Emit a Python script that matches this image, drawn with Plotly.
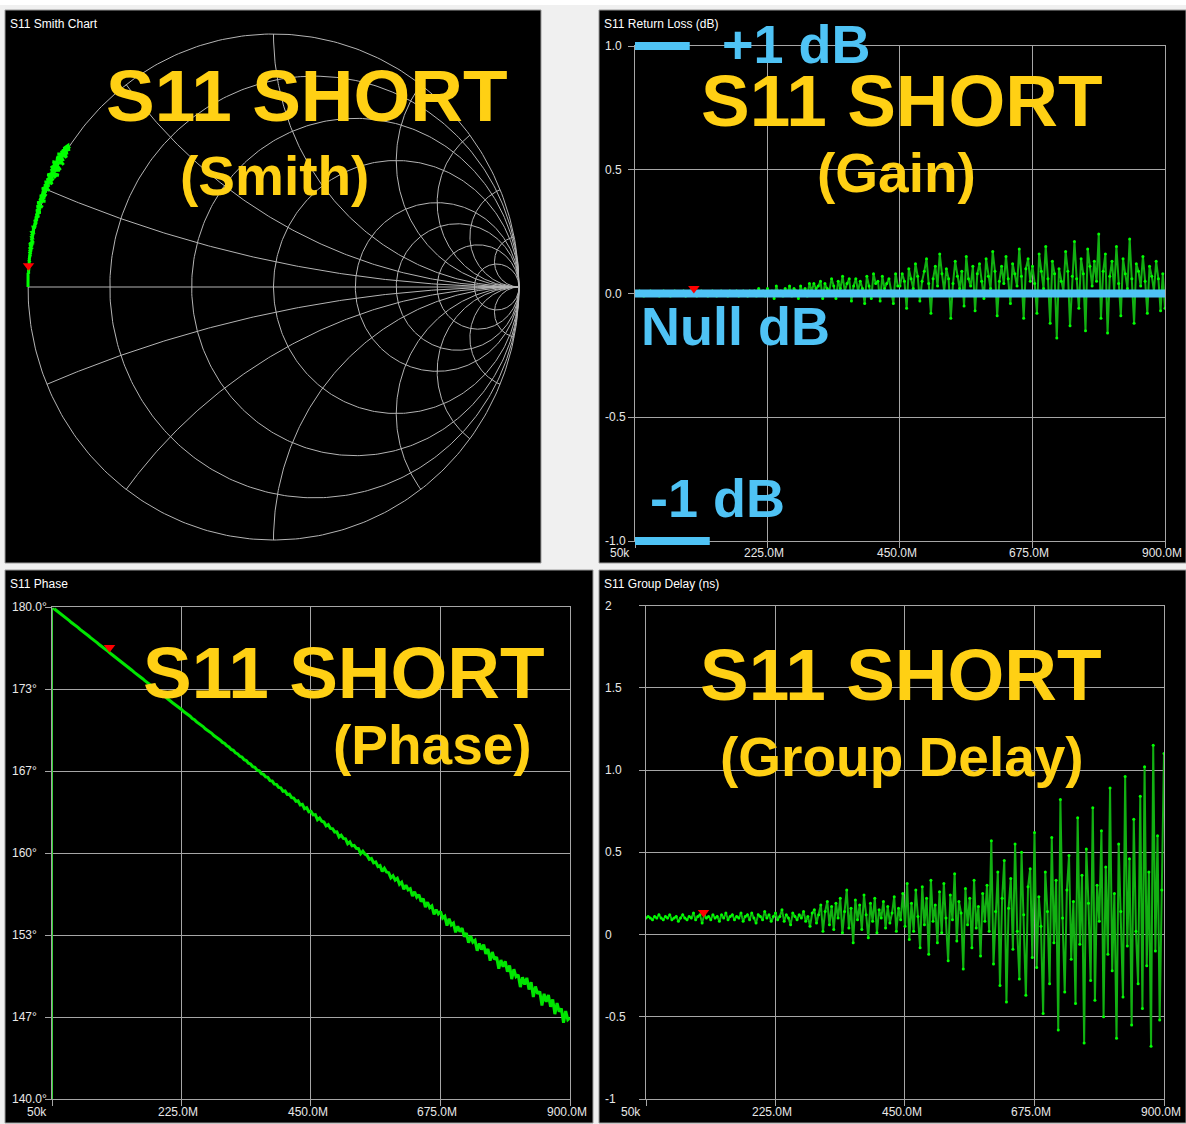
import numpy as np
import plotly.graph_objects as go

# ---------------- data ----------------
FREQ_START_HZ = 50e3
FREQ_STOP_HZ = 900e6
N_POINTS = 241
freq_hz = np.linspace(FREQ_START_HZ, FREQ_STOP_HZ, N_POINTS)

gain_db = [
    0.00, 0.00, 0.01, 0.00, -0.01, 0.00, 0.00, 0.01, 0.00, 0.00,
    0.00, -0.01, 0.00, 0.01, 0.00, 0.00, -0.01, 0.00, 0.01, 0.00,
    0.00, 0.00, 0.01, -0.01, 0.00, 0.01, 0.00, 0.00, -0.01, 0.00,
    0.01, 0.00, 0.00, -0.01, 0.00, 0.01, 0.00, -0.01, 0.00, 0.01,
    0.00, 0.00, -0.01, 0.01, 0.00, 0.00, 0.01, -0.01, 0.00, 0.01,
    0.00, -0.01, 0.01, 0.00, 0.01, -0.01, 0.02, 0.00, 0.01, -0.01,
    0.02, 0.00, 0.01, -0.02, 0.03, 0.00, 0.01, -0.01, 0.02, 0.00,
    0.03, -0.01, 0.02, 0.01, -0.02, 0.03, 0.00, 0.02, -0.01, 0.04,
    0.01, 0.04, 0.02, 0.03, 0.05, -0.02, 0.04, 0.02, 0.01, 0.06,
    0.03, -0.02, 0.05, 0.02, 0.07, 0.01, 0.04, 0.06, -0.03, 0.03,
    0.06, 0.01, 0.05, 0.02, -0.04, 0.07, 0.03, -0.02, 0.08, 0.04,
    0.05, -0.03, 0.07, 0.02, 0.04, 0.06, 0.01, -0.04, 0.08, 0.03,
    0.03, 0.08, 0.05, -0.06, 0.10, 0.06, 0.02, 0.12, 0.07, -0.03,
    0.05, 0.09, 0.14, 0.04, -0.08, 0.06, 0.11, 0.03, 0.16, 0.08,
    0.01, 0.10, 0.06, -0.10, 0.04, 0.13, 0.07, 0.02, 0.09, -0.05,
    0.15, 0.06, 0.03, 0.11, -0.07, 0.08, 0.12, 0.05, -0.02, 0.14,
    0.07, 0.02, 0.17, 0.09, -0.09, 0.05, 0.11, 0.04, 0.15, 0.06,
    -0.04, 0.12, 0.08, 0.03, 0.18, 0.07, -0.10, 0.10, 0.14, 0.05,
    0.11, 0.04, -0.08, 0.16, 0.09, 0.02, 0.19, 0.06, -0.12, 0.13,
    0.08, -0.18, 0.10, 0.05, 0.01, 0.17, 0.09, -0.13, 0.07, 0.21,
    0.06, -0.06, 0.14, 0.08, -0.15, 0.18, 0.11, 0.03, 0.13, 0.05,
    0.24, -0.10, 0.09, 0.16, -0.16, 0.07, 0.13, 0.01, 0.19, 0.04,
    -0.09, 0.14, 0.08, 0.02, 0.22, 0.06, -0.12, 0.12, 0.09, 0.03,
    0.15, 0.05, -0.08, 0.11, 0.07, 0.01, 0.13, 0.06, -0.07, 0.08,
    -0.06,
]

phase_deg = [
    -180.0, 179.86, 179.73, 179.57, 179.45, 179.29, 179.17, 179.02, 178.90, 178.74,
    178.62, 178.46, 178.34, 178.18, 178.06, 177.90, 177.78, 177.64, 177.49, 177.37,
    177.21, 177.09, 176.93, 176.81, 176.66, 176.52, 176.39, 176.24, 176.11, 175.95,
    175.83, 175.67, 175.55, 175.40, 175.27, 175.12, 174.99, 174.86, 174.70, 174.58,
    174.44, 174.28, 174.17, 174.01, 173.89, 173.73, 173.61, 173.45, 173.33, 173.17,
    173.05, 172.89, 172.77, 172.60, 172.49, 172.34, 172.20, 172.08, 171.92, 171.80,
    171.67, 171.50, 171.39, 171.22, 171.12, 170.94, 170.84, 170.66, 170.55, 170.39,
    170.28, 170.10, 169.99, 169.82, 169.73, 169.55, 169.44, 169.27, 169.17, 168.99,
    168.90, 168.71, 168.62, 168.42, 168.35, 168.14, 168.06, 167.86, 167.80, 167.58,
    167.52, 167.30, 167.24, 167.02, 166.97, 166.74, 166.69, 166.45, 166.40, 166.18,
    166.15, 165.88, 165.86, 165.60, 165.58, 165.33, 165.30, 165.02, 165.05, 164.76,
    164.78, 164.50, 164.47, 164.20, 164.25, 163.90, 163.96, 163.60, 163.68, 163.35,
    163.38, 163.10, 163.12, 162.70, 162.85, 162.58, 162.52, 162.20, 162.31, 162.00,
    161.98, 161.70, 161.72, 161.30, 161.45, 161.18, 161.15, 160.75, 160.90, 160.58,
    160.62, 160.38, 160.35, 159.95, 160.15, 159.90, 159.80, 159.48, 159.55, 159.20,
    159.28, 158.90, 158.98, 158.50, 158.75, 158.45, 158.40, 157.98, 158.15, 157.80,
    157.95, 157.45, 157.62, 157.05, 157.38, 157.00, 157.10, 156.50, 156.85, 156.40,
    156.60, 156.05, 156.30, 155.60, 156.00, 155.55, 155.70, 155.00, 155.40, 155.05,
    155.25, 154.70, 154.85, 154.10, 154.65, 154.15, 154.30, 153.55, 154.05, 153.60,
    153.90, 153.20, 153.50, 152.70, 153.25, 152.75, 152.90, 152.05, 152.65, 152.15,
    152.55, 151.80, 152.20, 151.25, 151.95, 151.35, 151.55, 150.60, 151.30, 150.75,
    151.20, 150.35, 150.85, 149.75, 150.55, 149.95, 150.10, 149.10, 149.90, 149.30,
    149.85, 148.90, 149.50, 148.30, 149.15, 148.55, 148.75, 147.60, 148.55, 147.90,
    148.45, 147.50, 148.10, 146.90, 147.80, 147.10, 147.35, 146.20, 147.15, 146.45,
    146.60,
]

group_delay_ns = [
    0.10, 0.11, 0.10, 0.09, 0.11, 0.10, 0.12, 0.10, 0.09, 0.11,
    0.10, 0.12, 0.09, 0.10, 0.11, 0.08, 0.10, 0.12, 0.10, 0.09,
    0.11, 0.10, 0.13, 0.09, 0.11, 0.12, 0.07, 0.12, 0.10, 0.11,
    0.09, 0.12, 0.10, 0.11, 0.08, 0.12, 0.10, 0.13, 0.09, 0.11,
    0.12, 0.09, 0.11, 0.10, 0.13, 0.08, 0.11, 0.12, 0.09, 0.13,
    0.10, 0.07, 0.12, 0.11, 0.09, 0.14, 0.10, 0.12, 0.08, 0.11,
    0.13, 0.09, 0.11, 0.15, 0.08, 0.12, 0.10, 0.06, 0.13, 0.11,
    0.09, 0.12, 0.10, 0.14, 0.08, 0.11, 0.05, 0.13, 0.15, 0.07,
    0.12, 0.18, 0.02, 0.14, 0.20, 0.06, 0.17, 0.03, 0.19, 0.10,
    0.22, 0.01, 0.14, 0.27, 0.04, 0.16, -0.05, 0.21, 0.09, 0.18,
    0.03, 0.24, 0.12, -0.02, 0.19, 0.08, 0.22, 0.01, 0.15, 0.10,
    0.20, 0.04, 0.17, 0.07, 0.13, 0.23, 0.02, 0.16, 0.09, 0.25,
    0.05, 0.31, -0.03, 0.19, 0.02, 0.27, 0.11, -0.08, 0.29, 0.06,
    0.22, -0.12, 0.33, 0.08, 0.18, -0.05, 0.26, 0.01, 0.31, 0.10,
    -0.16, 0.24, 0.09, 0.37, -0.04, 0.20, 0.13, -0.21, 0.28, 0.06,
    0.22, -0.08, 0.33, 0.04, 0.17, -0.13, 0.25, 0.08, 0.30, 0.02,
    0.57, -0.18, 0.14, 0.38, -0.31, 0.22, 0.45, -0.41, 0.16, 0.34,
    -0.09, 0.55, 0.02, -0.27, 0.50, 0.12, -0.37, 0.29, 0.40, -0.14,
    0.62, -0.20, 0.23, 0.05, -0.48, 0.38, 0.14, -0.30, 0.59, -0.05,
    0.33, -0.58, 0.82, 0.10, -0.35, 0.27, 0.48, -0.15, 0.20, -0.42,
    0.71, -0.06, 0.36, -0.66, 0.52, 0.19, -0.28, 0.77, -0.40, 0.30,
    0.08, 0.63, -0.50, 0.41, -0.12, 0.89, -0.22, 0.25, -0.63, 0.55,
    0.14, -0.38, 0.96, -0.07, 0.46, -0.55, 0.70, 0.02, -0.30, 0.84,
    -0.45, 1.02, -0.19, 0.38, -0.68, 1.15, -0.10, 0.60, -0.52, 0.27,
    1.10,
]

marker_freq_hz = [100e6]

freq_tick_vals = [50e3, 225e6, 450e6, 675e6, 900e6]
freq_tick_text = ["50k", "225.0M", "450.0M", "675.0M", "900.0M"]
gain_tick_vals = [1.0, 0.5, 0.0, -0.5, -1.0]
gain_tick_text = ["1.0", "0.5", "0.0", "-0.5", "-1.0"]
phase_tick_vals = [180.0, 173.333, 166.667, 160.0, 153.333, 146.667, 140.0]
phase_tick_text = ["180.0°", "173°", "167°", "160°", "153°", "147°", "140.0°"]
gd_tick_vals = [2.0, 1.5, 1.0, 0.5, 0.0, -0.5, -1.0]
gd_tick_text = ["2", "1.5", "1.0", "0.5", "0", "-0.5", "-1"]

smith_r_values = [0.2, 0.5, 1, 2, 3, 5, 10]
smith_x_values = [0.2, 0.5, 1, 2, 3, 5, 10]

# blue overlay bars on the gain chart: (level dB, stop frequency)
bar_levels_db = [1.0, 0.0, -1.0]
bar_stop_hz = [93e6, 900e6, 127e6]

panel_titles = ["S11 Smith Chart", "S11 Return Loss (dB)", "S11 Phase", "S11 Group Delay (ns)"]

# ---------------- layout helpers ----------------
W, H = 1186, 1124


def fx(px):
    return px / W


def fy(py):
    return 1 - py / H


GRID = "#a6a6a6"
TXT = "#e8e8e8"
YEL = "#FFD014"
BLU = "#4FC3F5"
GREEN_LINE = "#12b012"
GREEN_PT = "#00ff00"
FONT = "Liberation Sans, Arial, sans-serif"

# plot-area pixel boxes (left, right, top, bottom)
GAIN_BOX = (635, 1165, 46, 541)
PHASE_BOX = (52, 570, 607, 1099)
GD_BOX = (646, 1164, 605.5, 1099)
GAIN_RANGE = (-1.0, 1.0)
PHASE_RANGE = (140.0, 180.0)
GD_RANGE = (-1.0, 2.0)

SMITH_CX, SMITH_CY, SMITH_RX, SMITH_RY = 273.5, 287.0, 245.5, 253.0
SMITH_PAD = 1.01

fig = go.Figure()

# ---------------- Smith chart grid ----------------
gx, gy = [], []
t = np.linspace(0, 2 * np.pi, 400)
gx += list(np.cos(t)) + [None]
gy += list(np.sin(t)) + [None]
gx += [-1, 1, None]
gy += [0, 0, None]
for r in smith_r_values:
    c, rad = r / (1 + r), 1 / (1 + r)
    gx += list(c + rad * np.cos(t)) + [None]
    gy += list(rad * np.sin(t)) + [None]
for xv in smith_x_values:
    px_ = (xv ** 2 - 1) / (xv ** 2 + 1)
    py_ = 2 * xv / (xv ** 2 + 1)
    th_end = np.arctan2(py_ - 1 / xv, px_ - 1)
    if th_end > -np.pi / 2:
        th_end -= 2 * np.pi
    th = np.linspace(-np.pi / 2, th_end, 200)
    ax_ = 1 + (1 / xv) * np.cos(th)
    ay_ = 1 / xv + (1 / xv) * np.sin(th)
    gx += list(ax_) + [None] + list(ax_) + [None]
    gy += list(ay_) + [None] + list(-ay_) + [None]
fig.add_trace(go.Scatter(x=gx, y=gy, mode="lines", line=dict(color="#b4b4b4", width=1),
                         hoverinfo="skip", xaxis="x", yaxis="y"))

# Smith trace from magnitude (dB) and phase
mag = 10 ** (np.array(gain_db) / 20.0)
ang = np.deg2rad(np.array(phase_deg))
sx = mag * np.cos(ang)
sy = mag * np.sin(ang)
fig.add_trace(go.Scatter(x=sx, y=sy, mode="lines", line=dict(color=GREEN_PT, width=3),
                         hoverinfo="skip", xaxis="x", yaxis="y"))

# marker values at marker frequency
mf = marker_freq_hz[0]
m_gain = float(np.interp(mf, freq_hz, gain_db))
m_phase = float(np.interp(mf, freq_hz[1:], phase_deg[1:]))
m_gd = float(np.interp(mf, freq_hz, group_delay_ns))
m_mag = 10 ** (m_gain / 20)
m_sx = m_mag * np.cos(np.deg2rad(m_phase))
m_sy = m_mag * np.sin(np.deg2rad(m_phase))

MK = 10  # marker size; triangle tip is MK/2 px below its centre


def units_per_px(box, rng):
    return (rng[1] - rng[0]) / (box[3] - box[2])


smith_upp = (2 * SMITH_PAD) / (2 * SMITH_RY * SMITH_PAD)
fig.add_trace(go.Scatter(x=[m_sx], y=[m_sy + (MK / 2) * smith_upp], mode="markers",
                         marker=dict(symbol="triangle-down", size=MK, color="red"),
                         cliponaxis=False, hoverinfo="skip", xaxis="x", yaxis="y"))

# ---------------- Gain ----------------
fig.add_trace(go.Scatter(x=freq_hz, y=gain_db, mode="lines+markers",
                         line=dict(color=GREEN_LINE, width=2),
                         marker=dict(color=GREEN_PT, size=3),
                         hoverinfo="skip", xaxis="x2", yaxis="y2"))
fig.add_trace(go.Scatter(x=[FREQ_START_HZ, bar_stop_hz[1]], y=[bar_levels_db[1]] * 2, mode="lines",
                         line=dict(color=BLU, width=8), hoverinfo="skip", xaxis="x2", yaxis="y2"))
fig.add_trace(go.Scatter(x=[mf], y=[m_gain + (MK / 2) * units_per_px(GAIN_BOX, GAIN_RANGE)],
                         mode="markers", marker=dict(symbol="triangle-down", size=MK, color="red"),
                         cliponaxis=False, hoverinfo="skip", xaxis="x2", yaxis="y2"))

# ---------------- Phase ----------------
fig.add_trace(go.Scatter(x=freq_hz[:2], y=phase_deg[:2], mode="lines", line_shape="vh",
                         line=dict(color="#38d038", width=2), hoverinfo="skip",
                         xaxis="x3", yaxis="y3"))
fig.add_trace(go.Scatter(x=freq_hz[1:], y=phase_deg[1:], mode="lines",
                         line=dict(color="#00e600", width=3), hoverinfo="skip",
                         xaxis="x3", yaxis="y3"))
fig.add_trace(go.Scatter(x=[mf], y=[m_phase + (MK / 2) * units_per_px(PHASE_BOX, PHASE_RANGE)],
                         mode="markers", marker=dict(symbol="triangle-down", size=MK, color="red"),
                         cliponaxis=False, hoverinfo="skip", xaxis="x3", yaxis="y3"))

# ---------------- Group delay ----------------
fig.add_trace(go.Scatter(x=freq_hz, y=group_delay_ns, mode="lines+markers",
                         line=dict(color=GREEN_LINE, width=2),
                         marker=dict(color=GREEN_PT, size=3),
                         hoverinfo="skip", xaxis="x4", yaxis="y4"))
fig.add_trace(go.Scatter(x=[mf], y=[m_gd + (MK / 2) * units_per_px(GD_BOX, GD_RANGE)],
                         mode="markers", marker=dict(symbol="triangle-down", size=MK, color="red"),
                         cliponaxis=False, hoverinfo="skip", xaxis="x4", yaxis="y4"))


# ---------------- axes ----------------
def xax(box, anchor):
    return dict(domain=[fx(box[0]), fx(box[1])], range=[FREQ_START_HZ, FREQ_STOP_HZ], anchor=anchor,
                tickvals=freq_tick_vals, showticklabels=False, ticks="outside", ticklen=6,
                tickcolor=GRID, showgrid=True, gridcolor=GRID, gridwidth=1, showline=True,
                linecolor=GRID, mirror=True, zeroline=False, layer="below traces", fixedrange=True)


def yax(box, rng, vals, anchor):
    return dict(domain=[fy(box[3]), fy(box[2])], range=list(rng), anchor=anchor,
                tickvals=vals, showticklabels=False, ticks="outside", ticklen=6,
                tickcolor=GRID, showgrid=True, gridcolor=GRID, gridwidth=1, showline=True,
                linecolor=GRID, mirror=True, zeroline=False, layer="below traces", fixedrange=True)


sx0 = SMITH_CX - SMITH_RX * SMITH_PAD
sx1 = SMITH_CX + SMITH_RX * SMITH_PAD
sy0 = SMITH_CY - SMITH_RY * SMITH_PAD
sy1 = SMITH_CY + SMITH_RY * SMITH_PAD

layout = dict(
    width=W, height=H, margin=dict(l=0, r=0, t=0, b=0),
    paper_bgcolor="#f0f0f0", plot_bgcolor="black", showlegend=False,
    xaxis=dict(domain=[fx(sx0), fx(sx1)], range=[-SMITH_PAD, SMITH_PAD], visible=False,
               anchor="y", fixedrange=True),
    yaxis=dict(domain=[fy(sy1), fy(sy0)], range=[-SMITH_PAD, SMITH_PAD], visible=False,
               anchor="x", fixedrange=True),
    xaxis2=xax(GAIN_BOX, "y2"), yaxis2=yax(GAIN_BOX, GAIN_RANGE, gain_tick_vals, "x2"),
    xaxis3=xax(PHASE_BOX, "y3"), yaxis3=yax(PHASE_BOX, PHASE_RANGE, phase_tick_vals, "x3"),
    xaxis4=xax(GD_BOX, "y4"), yaxis4=yax(GD_BOX, GD_RANGE, gd_tick_vals, "x4"),
)
fig.update_layout(**layout)

# ---------------- panel backgrounds ----------------
shapes = []
shapes.append(dict(type="rect", xref="paper", yref="paper", x0=0, x1=1, y0=fy(5), y1=1,
                   fillcolor="white", line=dict(width=0), layer="below"))
panels = [(5, 541, 10, 563), (599, 1186, 10, 563), (5, 593, 570, 1123), (599, 1186, 570, 1123)]
for (l, r, t_, b) in panels:
    shapes.append(dict(type="rect", xref="paper", yref="paper", x0=fx(l), x1=fx(r), y0=fy(b), y1=fy(t_),
                       fillcolor="black", line=dict(color="#9a9a9a", width=1), layer="below"))
# +1 dB and -1 dB bars at the gain axis limits
for lvl, stop in [(bar_levels_db[0], bar_stop_hz[0]), (bar_levels_db[2], bar_stop_hz[2])]:
    yd = (lvl - GAIN_RANGE[0]) / (GAIN_RANGE[1] - GAIN_RANGE[0])
    shapes.append(dict(type="line", xref="x2", yref="y2 domain", x0=FREQ_START_HZ, x1=stop,
                       y0=yd, y1=yd, line=dict(color=BLU, width=8), layer="above"))
fig.update_layout(shapes=shapes)

# ---------------- annotations ----------------
ann = []


def text(t_, x, y, size, color, xanchor="center", yanchor="middle", bold=False,
         xref="paper", yref="paper", xshift=0):
    ann.append(dict(text=t_, x=x, y=y, xref=xref, yref=yref, xanchor=xanchor, yanchor=yanchor,
                    showarrow=False, xshift=xshift,
                    font=dict(family=FONT, size=size, color=color, weight="bold" if bold else "normal")))


# panel titles
for title, (px_, py_) in zip(panel_titles, [(8, 24), (602, 24), (8, 584), (602, 584)]):
    text(title, fx(px_), fy(py_), 12, "white", xanchor="left")

# y tick labels (left aligned at panel edge)
for vals, labs, yref, lx in [(gain_tick_vals, gain_tick_text, "y2", 602.5),
                             (phase_tick_vals, phase_tick_text, "y3", 9.5),
                             (gd_tick_vals, gd_tick_text, "y4", 602.5)]:
    for v, s in zip(vals, labs):
        text(s, fx(lx), v, 12, TXT, xanchor="left", yref=yref)

# x tick labels
for xref, ly in [("x2", 553), ("x3", 1112), ("x4", 1112)]:
    for k, (v, s) in enumerate(zip(freq_tick_vals, freq_tick_text)):
        if k == 0:
            text(s, v, fy(ly), 12, TXT, xanchor="right", xref=xref, xshift=-3)
        else:
            text(s, v, fy(ly), 12, TXT, xanchor="center", xref=xref, xshift=-3)

# big overlay captions
TITLE_SIZE, SUB_SIZE = 73, 55
text("S11 SHORT", fx(307), fy(96), TITLE_SIZE, YEL, bold=True)
text("(Smith)", fx(274), fy(176), SUB_SIZE, YEL, bold=True)
text("S11 SHORT", fx(902), fy(100), TITLE_SIZE, YEL, bold=True)
text("(Gain)", fx(897), fy(173), SUB_SIZE, YEL, bold=True)
text("S11 SHORT", fx(344), fy(672), TITLE_SIZE, YEL, bold=True)
text("(Phase)", fx(432), fy(745), SUB_SIZE, YEL, bold=True)
text("S11 SHORT", fx(901), fy(674), TITLE_SIZE, YEL, bold=True)
text("(Group Delay)", fx(902), fy(757), SUB_SIZE, YEL, bold=True)

text("+1 dB", fx(796), fy(44), 54, BLU, bold=True)
text("Null dB", fx(735), fy(326), 54, BLU, bold=True)
text("-1 dB", fx(717), fy(498), 54, BLU, bold=True)

fig.update_layout(annotations=ann)

fig.write_html("out.html", config={"displayModeBar": False},
               post_script="document.body.style.margin='0px';document.body.style.overflow='hidden';")
